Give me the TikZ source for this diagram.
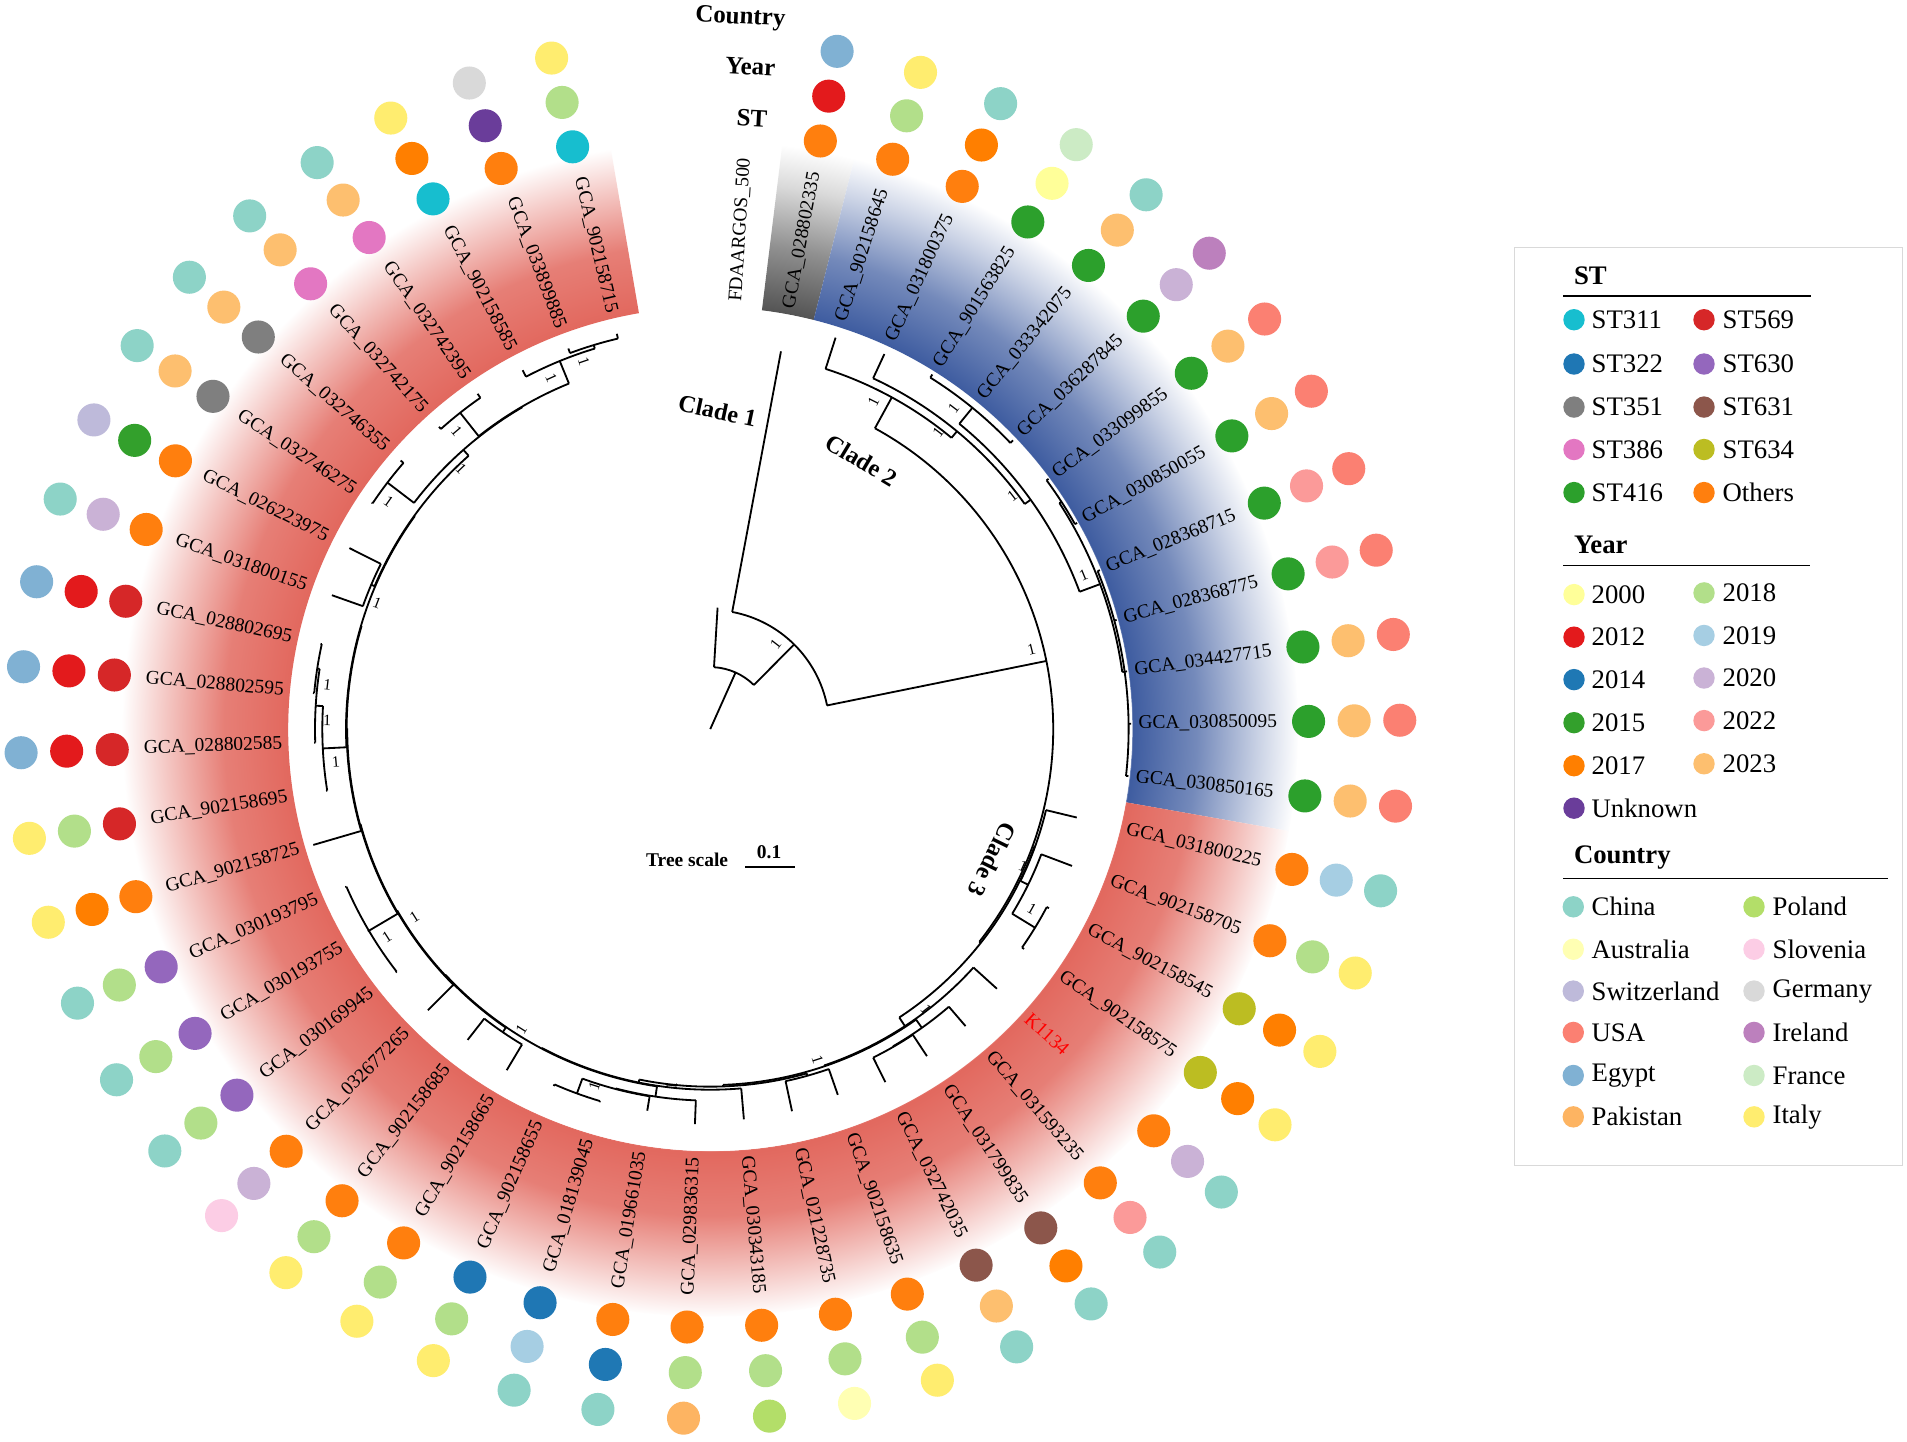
\documentclass[tikz,border=0pt]{standalone}
\usepackage{fontspec}
\setmainfont{Liberation Serif}
% ST colours
\definecolor{s311}{HTML}{17BECF}\definecolor{s322}{HTML}{1F77B4}\definecolor{s351}{HTML}{7F7F7F}
\definecolor{s386}{HTML}{E377C2}\definecolor{s416}{HTML}{2CA02C}\definecolor{s569}{HTML}{D62728}
\definecolor{s630}{HTML}{9467BD}\definecolor{s631}{HTML}{8C564B}\definecolor{s634}{HTML}{BCBD22}
\definecolor{sOth}{HTML}{FF7F0E}
% Year colours
\definecolor{y2000}{HTML}{FFFF99}\definecolor{y2012}{HTML}{E31A1C}\definecolor{y2014}{HTML}{1F78B4}
\definecolor{y2015}{HTML}{33A02C}\definecolor{y2017}{HTML}{FF7F00}\definecolor{y2018}{HTML}{B2DF8A}
\definecolor{y2019}{HTML}{A6CEE3}\definecolor{y2020}{HTML}{CAB2D6}\definecolor{y2022}{HTML}{FB9A99}
\definecolor{y2023}{HTML}{FDBF6F}\definecolor{yUnk}{HTML}{6A3D9A}
% Country colours
\definecolor{cChina}{HTML}{8DD3C7}\definecolor{cAustralia}{HTML}{FFFFB3}\definecolor{cSwitzerland}{HTML}{BEBADA}
\definecolor{cUSA}{HTML}{FB8072}\definecolor{cEgypt}{HTML}{80B1D3}\definecolor{cPakistan}{HTML}{FDB462}
\definecolor{cPoland}{HTML}{B3DE69}\definecolor{cSlovenia}{HTML}{FCCDE5}\definecolor{cGermany}{HTML}{D9D9D9}
\definecolor{cIreland}{HTML}{BC80BD}\definecolor{cFrance}{HTML}{CCEBC5}\definecolor{cItaly}{HTML}{FFED6F}
% band colours
\definecolor{bandred}{RGB}{226,104,94}
\definecolor{bandblue}{RGB}{62,92,160}
\definecolor{bandgray}{RGB}{84,84,84}
% radial shadings: 25bp = radius 500 of the shaded circle
\pgfdeclareradialshading{redband}{\pgfpoint{0bp}{0bp}}{color(0bp)=(white); color(17.3bp)=(white); color(17.35bp)=(bandred); color(20bp)=(bandred!85); color(22.5bp)=(bandred!35); color(24.2bp)=(white); color(50bp)=(white)}
\pgfdeclareradialshading{blueband}{\pgfpoint{0bp}{0bp}}{color(0bp)=(white); color(17.3bp)=(white); color(17.35bp)=(bandblue); color(20bp)=(bandblue!72); color(22.5bp)=(bandblue!28); color(24.2bp)=(white); color(50bp)=(white)}
\pgfdeclareradialshading{grayband}{\pgfpoint{0bp}{0bp}}{color(0bp)=(white); color(17.3bp)=(white); color(17.35bp)=(bandgray); color(20bp)=(bandgray!65); color(22.5bp)=(bandgray!22); color(24.2bp)=(white); color(50bp)=(white)}
% tree helpers: slot s -> angle 86.55-7.151 s
\newcommand\tbr[3]{\pgfmathsetmacro\tph{86.55-7.151*(#1)}\draw[tree] (\tph:#2) -- (\tph:#3);}
\newcommand\tarc[3]{\pgfmathsetmacro\tpa{86.55-7.151*(#1)}\pgfmathsetmacro\tpb{86.55-7.151*(#2)}\draw[tree] (\tpa:#3) arc[start angle=\tpa,end angle=\tpb,radius=#3];}
\newcommand\bsl[2]{\pgfmathsetmacro\bph{86.55-7.151*(#1)+687/(#2)}\pgfmathsetmacro\brr{#2-10}\pgfmathsetmacro\brot{ifthenelse(\bph<-90,\bph+180,\bph)}\node[boot,rotate=\brot] at (\bph:\brr) {1};}
\tikzset{
  tree/.style={line width=1.5pt},
  boot/.style={inner sep=0pt,font=\fontsize{13}{13}\selectfont},
  lab/.style={inner sep=0pt,font=\fontsize{16}{16}\selectfont},
  hdr/.style={inner sep=0pt,font=\fontsize{20.5}{20.5}\selectfont\bfseries},
  clade/.style={inner sep=0pt,font=\fontsize{20}{20}\selectfont\bfseries},
  legt/.style={inner sep=0pt,anchor=west,font=\fontsize{22}{22}\selectfont},
  legh/.style={inner sep=0pt,anchor=west,font=\fontsize{22}{22}\selectfont\bfseries},
}
\begin{document}
\begin{tikzpicture}[x=1pt,y=1pt]
\useasboundingbox (0,0) rectangle (1568,-1185);
\fill[white] (0,0) rectangle (1568,-1185);
\begin{scope}[shift={(584,-599.5)}]
  % coloured clade bands
  \begin{scope}
    \clip (82.97:347) arc[start angle=82.97,end angle=75.82,radius=347] -- (75.82:483) arc[start angle=75.82,end angle=82.97,radius=483] -- cycle;
    \shade[shading=grayband] (0,0) circle (500);
  \end{scope}
  \begin{scope}
    \clip (75.82:347) arc[start angle=75.82,end angle=-9.99,radius=347] -- (-9.99:483) arc[start angle=-9.99,end angle=75.82,radius=483] -- cycle;
    \shade[shading=blueband] (0,0) circle (500);
  \end{scope}
  \begin{scope}
    \clip (-9.99:347) arc[start angle=-9.99,end angle=-260.27,radius=347] -- (-260.27:483) arc[start angle=-260.27,end angle=-9.99,radius=483] -- cycle;
    \shade[shading=redband] (0,0) circle (500);
  \end{scope}
  % leaf 0 and headers
  \node[lab,rotate=86.55,anchor=west] (lab0) at (86.55:352) {FDAARGOS\_500};
  \node[hdr,rotate=-3] (hST) at (34.3,502.2) {ST};
  \node[hdr,rotate=-3] (hYear) at (33,544.7) {Year};
  \node[hdr,rotate=-3] (hCountry) at (24.7,584.5) {Country};
  % leaves with metadata
  \foreach \i/\lab/\st/\yr/\ct in {
    1/GCA\_028802335/sOth/y2012/cEgypt,
    2/GCA\_902158645/sOth/y2018/cItaly,
    3/GCA\_031800375/sOth/y2017/cChina,
    4/GCA\_901563825/s416/y2000/cFrance,
    5/GCA\_033342075/s416/y2023/cChina,
    6/GCA\_036287845/s416/y2020/cIreland,
    7/GCA\_033099855/s416/y2023/cUSA,
    8/GCA\_030850055/s416/y2023/cUSA,
    9/GCA\_028368715/s416/y2022/cUSA,
    10/GCA\_028368775/s416/y2022/cUSA,
    11/GCA\_034427715/s416/y2023/cUSA,
    12/GCA\_030850095/s416/y2023/cUSA,
    13/GCA\_030850165/s416/y2023/cUSA,
    14/GCA\_031800225/sOth/y2019/cChina,
    15/GCA\_902158705/sOth/y2018/cItaly,
    16/GCA\_902158545/s634/y2017/cItaly,
    17/GCA\_902158575/s634/y2017/cItaly,
    18/{\color{red}K1134}/sOth/y2020/cChina,
    19/GCA\_031593235/sOth/y2022/cChina,
    20/GCA\_031799835/s631/y2017/cChina,
    21/GCA\_032742035/s631/y2023/cChina,
    22/GCA\_902158635/sOth/y2018/cItaly,
    23/GCA\_021228735/sOth/y2018/cAustralia,
    24/GCA\_030343185/sOth/y2018/cPoland,
    25/GCA\_029836315/sOth/y2018/cPakistan,
    26/GCA\_019661035/sOth/y2014/cChina,
    27/GCA\_018139045/s322/y2019/cChina,
    28/GCA\_902158655/s322/y2018/cItaly,
    29/GCA\_902158665/sOth/y2018/cItaly,
    30/GCA\_902158685/sOth/y2018/cItaly,
    31/GCA\_032677265/sOth/y2020/cSlovenia,
    32/GCA\_030169945/s630/y2018/cChina,
    33/GCA\_030193755/s630/y2018/cChina,
    34/GCA\_030193795/s630/y2018/cChina,
    35/GCA\_902158725/sOth/y2017/cItaly,
    36/GCA\_902158695/s569/y2018/cItaly,
    37/GCA\_028802585/s569/y2012/cEgypt,
    38/GCA\_028802595/s569/y2012/cEgypt,
    39/GCA\_028802695/s569/y2012/cEgypt,
    40/GCA\_031800155/sOth/y2020/cChina,
    41/GCA\_026223975/sOth/y2015/cSwitzerland,
    42/GCA\_032746275/s351/y2023/cChina,
    43/GCA\_032746355/s351/y2023/cChina,
    44/GCA\_032742175/s386/y2023/cChina,
    45/GCA\_032742395/s386/y2023/cChina,
    46/GCA\_902158585/s311/y2017/cItaly,
    47/GCA\_033899885/sOth/yUnk/cGermany,
    48/GCA\_902158715/s311/y2018/cItaly}{
    \pgfmathsetmacro\ph{86.55-7.151*\i}
    \ifnum\i<25
      \node[lab,rotate=\ph,anchor=west] (lab\i) at (\ph:352) {\lab};
    \else
      \node[lab,rotate=\ph+180,anchor=east] (lab\i) at (\ph:352) {\lab};
    \fi
    \fill[\st] (\ph:492) circle (13.6);
    \fill[\yr] (\ph:529.5) circle (13.6);
    \fill[\ct] (\ph:567) circle (13.6);
  }
  % ---------------- tree ----------------
  \tbr{2.885}{0}{51}
  \tarc{0}{5.77}{51} \tbr{0}{51}{100} \tbr{5.77}{51}{98}
  \tarc{1}{10.5}{98} \tbr{1}{98}{316} \tbr{10.5}{98}{282} \bsl{5.77}{98}
  \tarc{3.53}{17.46}{282} \bsl{10.5}{282}
  % clade 2
  \tbr{3.53}{282}{311} \tarc{2}{5.06}{311} \tbr{2}{311}{338} \tbr{5.06}{311}{318} \bsl{3.53}{311}
  \tarc{3}{7.125}{318} \tbr{3}{318}{340} \tbr{7.125}{318}{324} \bsl{5.06}{318}
  \tarc{5}{9.25}{324} \tbr{5}{324}{341} \tbr{9.25}{324}{342} \bsl{7.125}{324}
  \tarc{4}{6}{341} \tbr{4}{341}{344} \tbr{6}{341}{344} \bsl{5}{341}
  \tarc{7.5}{11}{342} \tbr{7.5}{342}{344} \tbr{11}{342}{344} \bsl{9.25}{342}
  \tarc{7}{8}{344} \tbr{7}{344}{346} \tbr{8}{344}{346}
  \tarc{9}{13}{344} \foreach \k in {9,...,13}{\tbr{\k}{344}{346}}
  % clade 3
  \tbr{17.46}{282}{283.5} \tarc{14.875}{20.04}{283.5}
  \tbr{14.875}{283.5}{284} \tarc{14}{15.75}{284} \tbr{14}{284}{310} \tbr{15.75}{284}{291}
  \tarc{15}{16.5}{291} \tbr{15}{291}{318} \tbr{16.5}{291}{313} \bsl{15.75}{291}
  \tarc{16}{17}{313} \tbr{16}{313}{315} \tbr{17}{313}{315} \bsl{16.5}{313}
  \tbr{20.04}{283.5}{292} \tarc{18}{22.07}{292} \tbr{18}{292}{318} \tbr{22.07}{292}{292.7}
  \tarc{19.75}{24.4}{292.7} \tbr{19.75}{292.7}{301} \tbr{24.4}{292.7}{294}
  \tarc{19}{20.5}{301} \tbr{19}{301}{322} \tbr{20.5}{301}{301.5} \bsl{19.75}{301}
  \tarc{20}{21}{301.5} \tbr{20}{301.5}{322.6} \tbr{21}{301.5}{324}
  \tarc{22.5}{26.29}{294} \tbr{22.5}{294}{296} \tbr{26.29}{294}{296.5}
  \tarc{22}{23}{296} \tbr{22}{296}{318.5} \tbr{23}{296}{321.3} \bsl{22.5}{296}
  \tarc{24}{28.58}{296.5} \tbr{24}{296.5}{322} \tbr{28.58}{296.5}{297}
  \tarc{25.875}{31.29}{297} \tbr{25.875}{297}{305.5} \tbr{31.29}{297}{297.5}
  \tarc{25}{26.75}{305.5} \tbr{25}{305.5}{325} \tbr{26.75}{305.5}{306} \bsl{25.875}{305.5}
  \tarc{26}{27.5}{306} \tbr{26}{306}{318} \tbr{27.5}{306}{319}
  \tarc{27}{28}{319} \tbr{27}{319}{320} \tbr{28}{319}{320.5} \bsl{27.5}{319}
  \tarc{29.5}{33.07}{297.5} \tbr{29.5}{297.5}{302} \tbr{33.07}{297.5}{298}
  \tarc{29}{30}{302} \tbr{29}{302}{326.6} \tbr{30}{302}{324.2} \bsl{29.5}{302}
  \tarc{31}{35.15}{298} \tbr{31}{298}{327.6} \tbr{35.15}{298}{298.5} \bsl{33.07}{298}
  \tarc{33}{37.29}{298.5} \tbr{33}{298.5}{326} \tbr{37.29}{298.5}{299}
  \tarc{32}{34}{326} \foreach \k in {32,33,34}{\tbr{\k}{326}{327}} \bsl{33}{326}
  \tarc{35}{39.58}{299} \tbr{35}{299}{340} \tbr{39.58}{299}{299.5}
  \tarc{36.875}{42.28}{299.5} \tbr{36.875}{299.5}{319} \tbr{42.28}{299.5}{300}
  \tarc{36}{37.75}{319} \tbr{36}{319}{320} \tbr{37.75}{319}{325} \bsl{36.875}{319}
  \tarc{37}{38.5}{325} \tbr{37}{325}{326} \tbr{38.5}{325}{327} \bsl{37.75}{325}
  \tarc{38}{39}{327} \tbr{38}{327}{328} \tbr{39}{327}{328} \bsl{38.5}{327}
  \tarc{40.5}{44.06}{300} \tbr{40.5}{300}{303} \tbr{44.06}{300}{306.5}
  \tarc{40}{41}{303} \tbr{40}{303}{330} \tbr{41}{303}{332} \bsl{40.5}{303}
  \tarc{42.5}{45.625}{306.5} \tbr{42.5}{306.5}{334} \tbr{45.625}{306.5}{307} \bsl{44.06}{306.5}
  \tarc{42}{43}{334} \tbr{42}{334}{335} \tbr{43}{334}{337} \bsl{42.5}{334}
  \tarc{44.5}{46.75}{307} \tbr{44.5}{307}{331.6} \tbr{46.75}{307}{327}
  \tarc{44}{45}{331.6} \tbr{44}{331.6}{334} \tbr{45}{331.6}{335.6} \bsl{44.5}{331.6}
  \tarc{46}{47.5}{327} \tbr{46}{327}{333} \tbr{47.5}{327}{330} \bsl{46.75}{327}
  \tarc{47}{48}{330} \tbr{47}{330}{334} \tbr{48}{330}{334} \bsl{47.5}{330}
  % clade labels
  \node[clade,rotate=-12] (cl1) at (6,261.7) {Clade 1};
  \node[clade,rotate=-31] (cl2) at (124.2,221) {Clade 2};
  \node[clade,rotate=-116] (cl3) at (232,-107.5) {Clade 3};
  % tree scale
  \node[inner sep=0pt,font=\fontsize{16}{16}\selectfont\bfseries] (ts) at (-19,-107.5) {Tree scale};
  \node[inner sep=0pt,font=\fontsize{16}{16}\selectfont\bfseries] (ts1) at (48.4,-101.5) {0.1};
  \coordinate (tsa) at (28.6,-113.4);
  \coordinate (tsb) at (69.7,-113.4);
  \draw[line width=1.5pt] (tsa) -- (tsb);
\end{scope}
% legend
\draw[draw=black!15,line width=0.8pt] (1245.5,-203.5) rectangle (1564,-958);
\node[legh] (lgST) at (1294,-226.5) {ST};
\draw[line width=1.1pt] (1285.4,-243.4) -- (1488.8,-243.4);
\foreach \y/\ca/\ta/\cb/\tb in {262.9/s311/ST311/s569/ST569, 299.3/s322/ST322/s630/ST630, 334.7/s351/ST351/s631/ST631, 369.6/s386/ST386/s634/ST634, 405/s416/ST416/sOth/Others}{
  \fill[\ca] (1294.2,-\y) circle (8.8);
  \node[legt] at (1308.5,-\y) {\ta};
  \fill[\cb] (1401.1,-\y) circle (8.8);
  \node[legt] at (1416.2,-\y) {\tb};
}
\node[legh] (lgYear) at (1294,-448) {Year};
\draw[line width=1.1pt] (1285.4,-465.1) -- (1488.3,-465.1);
\foreach \y/\ca/\ta in {488.9/y2000/2000, 523.9/y2012/2012, 558.8/y2014/2014, 594.2/y2015/2015, 629.6/y2017/2017, 664.5/yUnk/Unknown}{
  \fill[\ca] (1294.2,-\y) circle (8.8);
  \node[legt] at (1308.5,-\y) {\ta};
}
\foreach \y/\ca/\ta in {487.5/y2018/2018, 522.5/y2019/2019, 557.5/y2020/2020, 592.5/y2022/2022, 628/y2023/2023}{
  \fill[\ca] (1401.1,-\y) circle (8.8);
  \node[legt] at (1416.2,-\y) {\ta};
}
\node[legh] (lgCountry) at (1294,-705.3) {Country};
\draw[line width=1.1pt] (1285.4,-722.3) -- (1552.4,-722.3);
\foreach \y/\ca/\ta/\cb/\tb in {745.6/cChina/China/cPoland/Poland, 780.5/cAustralia/Australia/cSlovenia/Slovenia, 814.9/cSwitzerland/Switzerland/cGermany/Germany, 848.9/cUSA/USA/cIreland/Ireland, 884.3/cEgypt/Egypt/cFrance/France, 918.3/cPakistan/Pakistan/cItaly/Italy}{
  \fill[\ca] (1293.6,-\y) circle (8.8);
  \node[legt] at (1308.5,-\y) {\ta};
  \fill[\cb] (1442.2,-\y) circle (8.8);
  \node[legt] at (1457.3,-\y) {\tb};
}
\end{tikzpicture}
\end{document}
